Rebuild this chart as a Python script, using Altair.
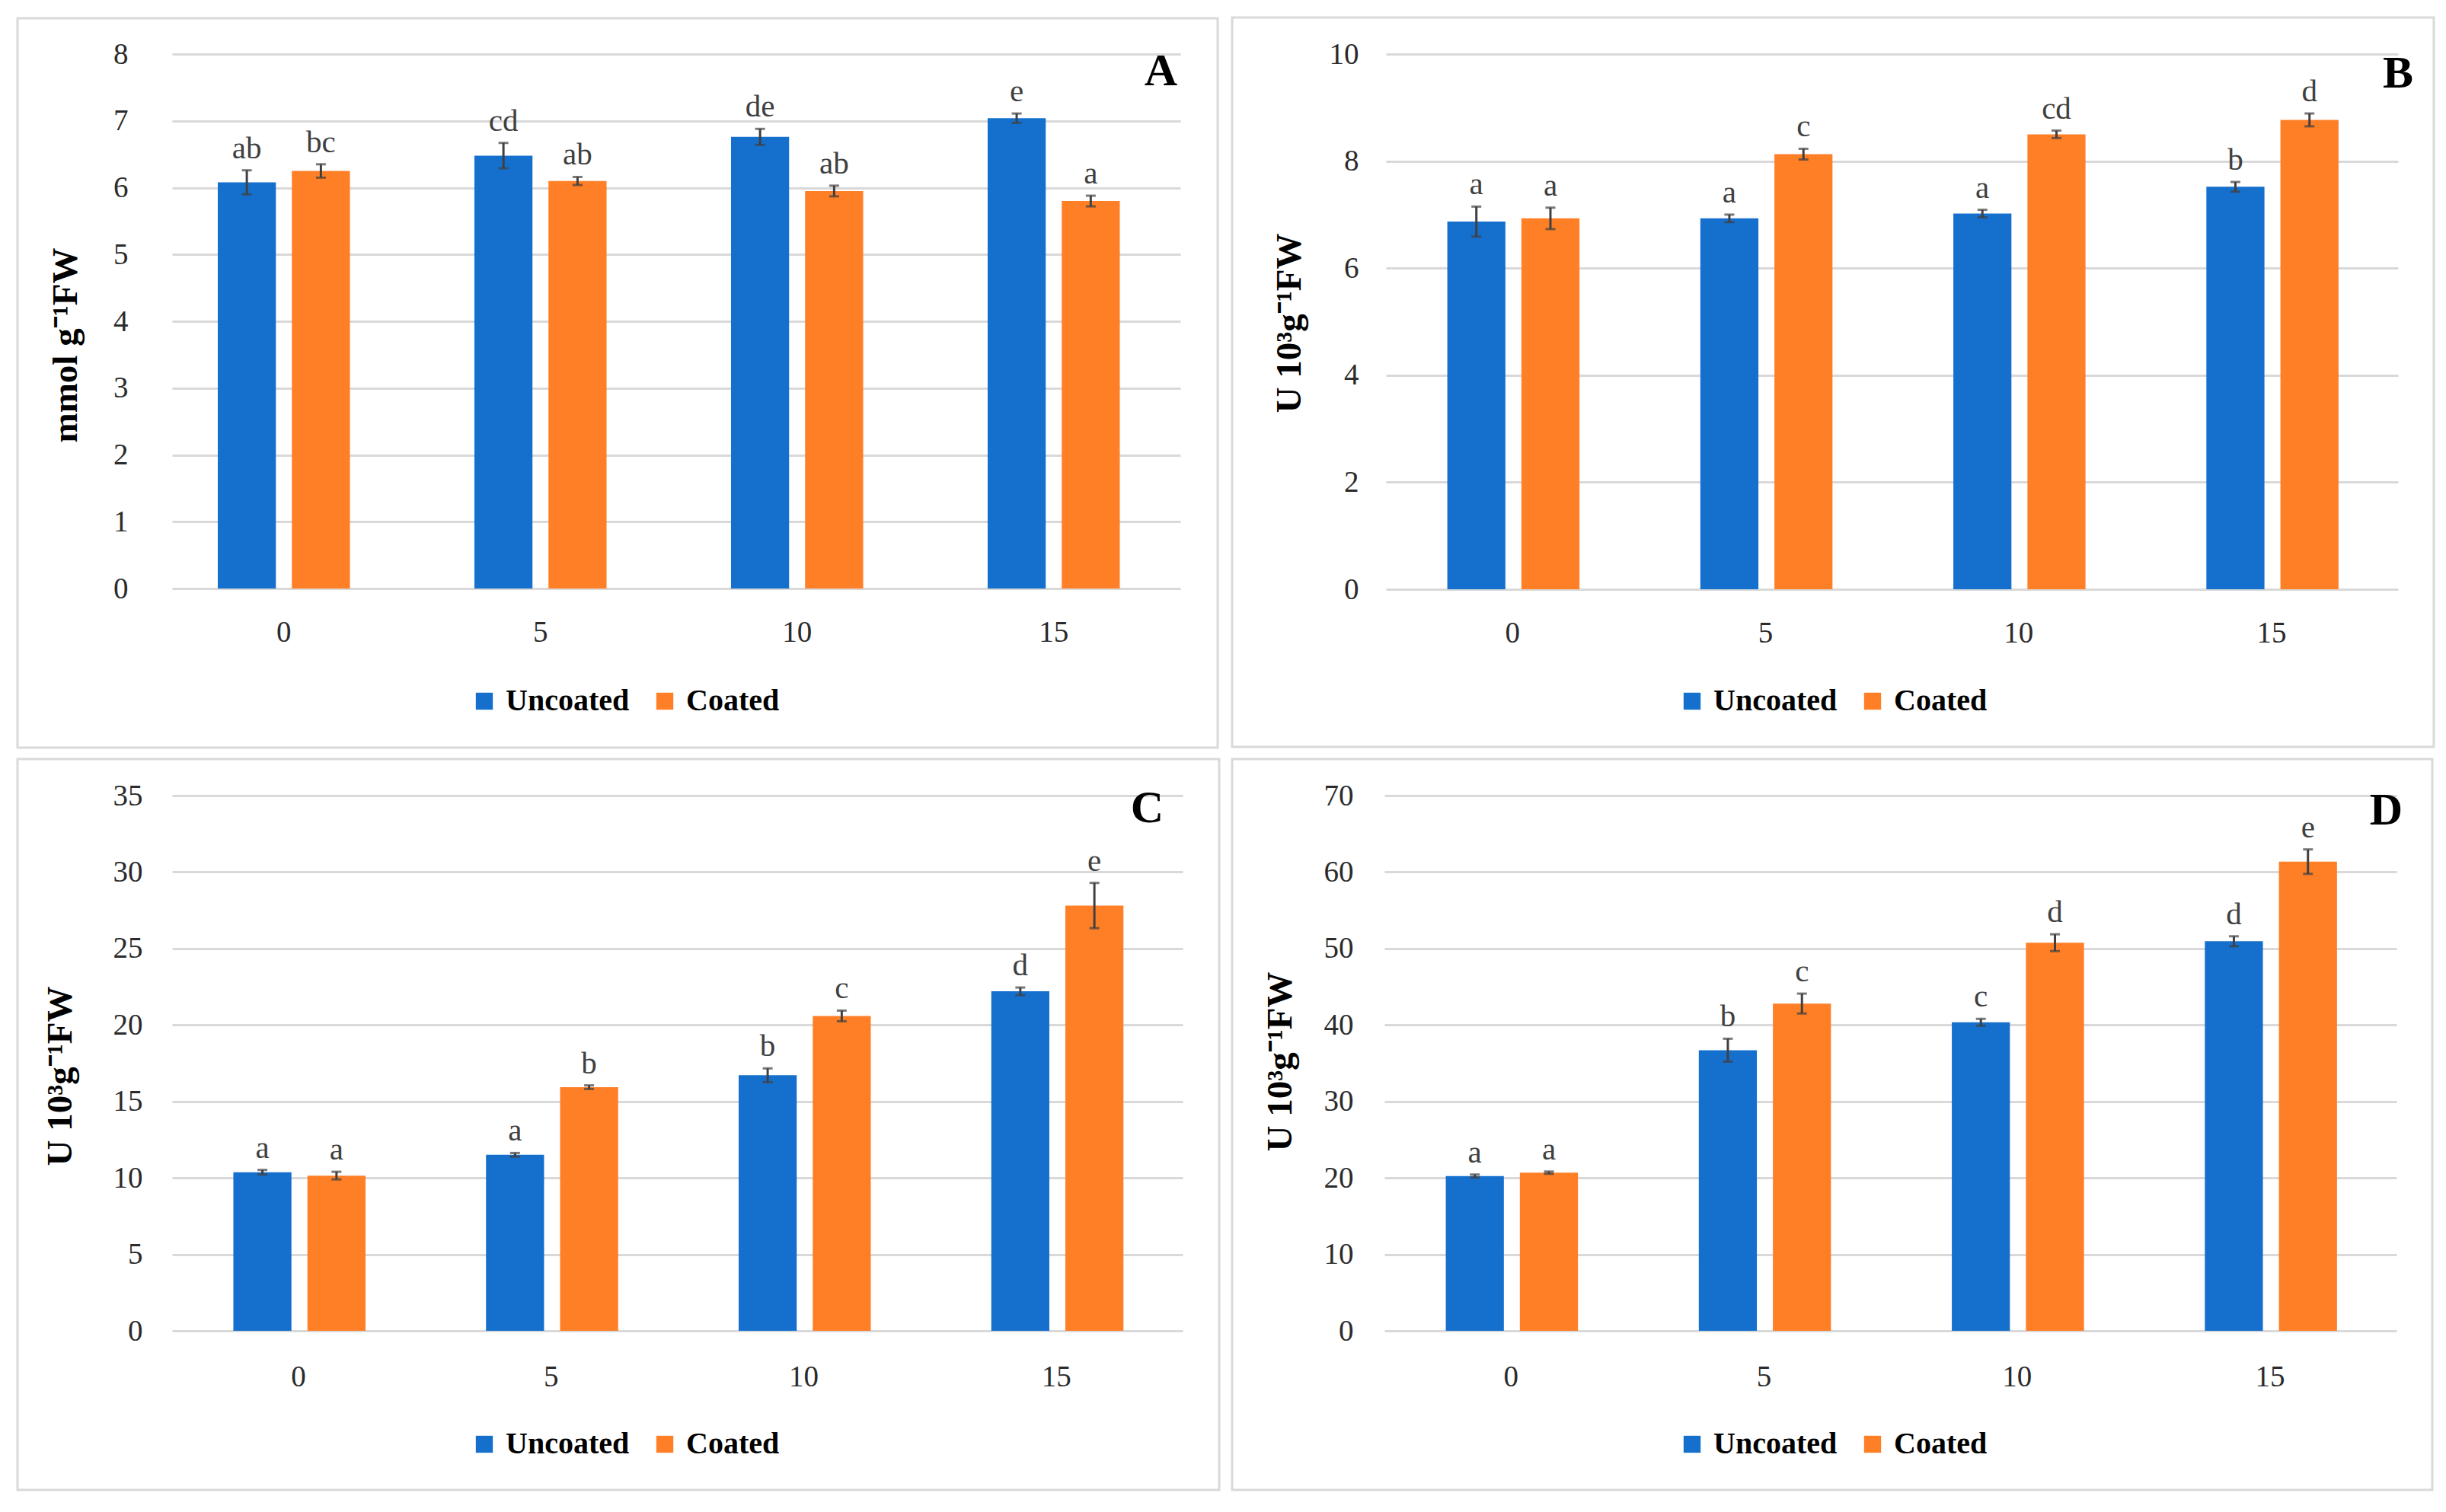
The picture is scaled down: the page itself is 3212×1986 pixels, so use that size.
import altair as alt
import pandas as pd

FONT = "Liberation Serif"
BLUE = "#1570CD"
ORANGE = "#FF7F27"
EB = "#404040"
GRID = "#D9D9D9"

days = ["0", "5", "10", "15"]
groups = ["Uncoated", "Coated"]

a_unc = [6.08, 6.48, 6.76, 7.04]
a_unc_err = [0.18, 0.19, 0.12, 0.07]
a_coat = [6.25, 6.10, 5.95, 5.80]
a_coat_err = [0.10, 0.06, 0.08, 0.08]
a_unc_lbl = ["ab", "cd", "de", "e"]
a_coat_lbl = ["bc", "ab", "ab", "a"]

b_unc = [6.87, 6.93, 7.02, 7.52]
b_unc_err = [0.28, 0.07, 0.07, 0.09]
b_coat = [6.93, 8.13, 8.50, 8.77]
b_coat_err = [0.20, 0.10, 0.07, 0.12]
b_unc_lbl = ["a", "a", "a", "b"]
b_coat_lbl = ["a", "c", "cd", "d"]

c_unc = [10.37, 11.51, 16.71, 22.20]
c_unc_err = [0.15, 0.12, 0.45, 0.25]
c_coat = [10.15, 15.93, 20.59, 27.81]
c_coat_err = [0.25, 0.12, 0.35, 1.48]
c_unc_lbl = ["a", "a", "b", "d"]
c_coat_lbl = ["a", "b", "c", "e"]

d_unc = [20.24, 36.70, 40.35, 50.95]
d_unc_err = [0.20, 1.50, 0.45, 0.65]
d_coat = [20.68, 42.80, 50.76, 61.36]
d_coat_err = [0.15, 1.30, 1.10, 1.60]
d_unc_lbl = ["a", "b", "c", "d"]
d_coat_lbl = ["a", "c", "d", "e"]


def panel(letter, unc, unc_err, coat, coat_err, unc_lbl, coat_lbl, ymax, ystep,
          ytitle, W, H, L, T, R, B, title_x, title_y, letter_x, letter_y,
          legend_x, legend_y, label_pad=38, x_outer=0.2425, x_align=0.5, x_pad=38):
    rows = []
    for i, d in enumerate(days):
        rows.append(dict(day=d, group="Uncoated", value=unc[i], err=unc_err[i], label=unc_lbl[i]))
        rows.append(dict(day=d, group="Coated", value=coat[i], err=coat_err[i], label=coat_lbl[i]))
    df = pd.DataFrame(rows)
    df["lo"] = df["value"] - df["err"]
    df["hi"] = df["value"] + df["err"]

    x = alt.X("day:N", sort=days, title=None,
              scale=alt.Scale(paddingInner=0.485, paddingOuter=x_outer, align=x_align),
              axis=alt.Axis(labelAngle=0, labelFont=FONT, labelFontSize=39,
                            labelColor="#2b2b2b", labelPadding=x_pad, ticks=False,
                            domain=False, grid=False))
    xo = alt.XOffset("group:N", sort=groups,
                     scale=alt.Scale(paddingInner=0.216, paddingOuter=0))
    yscale = alt.Scale(domain=[0, ymax], nice=False, zero=True)
    yaxis = alt.Axis(values=list(range(0, ymax + 1, ystep)), grid=True,
                     gridColor=GRID, gridWidth=3, domain=False, ticks=False,
                     labelPadding=label_pad, labelFont=FONT, labelFontSize=39,
                     labelColor="#2b2b2b", titleFont=FONT, titleFontSize=47,
                     titleFontWeight="bold", titleColor="black", titleAngle=-90,
                     titleX=title_x, titleY=title_y, titleAlign="center",
                     titleBaseline="bottom")

    def Y(field):
        return alt.Y(field, scale=yscale, axis=yaxis, title=ytitle)

    base = alt.Chart(df)
    border = alt.Chart(pd.DataFrame({"k": [0]})).mark_rect(
        filled=False, color=GRID, strokeWidth=3
    ).encode(x=alt.value(-L), x2=alt.value(W + R), y=alt.value(-T), y2=alt.value(H + B))

    bars = base.mark_bar().encode(
        x=x, xOffset=xo,
        y=Y("value:Q"),
        color=alt.Color("group:N", sort=groups,
                        scale=alt.Scale(domain=groups, range=[BLUE, ORANGE]),
                        legend=alt.Legend(title=None, orient="none", legendX=legend_x,
                                          legendY=legend_y, direction="horizontal",
                                          columns=2, symbolType="square", symbolSize=500,
                                          symbolStrokeWidth=0, labelFont=FONT,
                                          labelFontSize=40, labelFontWeight="bold",
                                          labelColor="black", labelOffset=8,
                                          labelLimit=500, columnPadding=26, padding=0)),
    )
    rules = base.mark_rule(color=EB, strokeWidth=3).encode(
        x=x, xOffset=xo, y=Y("lo:Q"), y2="hi:Q")
    cap_hi = base.mark_tick(color=EB, thickness=3, size=13).encode(
        x=x, xOffset=xo, y=Y("hi:Q"))
    cap_lo = base.mark_tick(color=EB, thickness=3, size=13).encode(
        x=x, xOffset=xo, y=Y("lo:Q"))
    labels = base.mark_text(font=FONT, fontSize=41, color=EB, baseline="alphabetic",
                            dy=-16).encode(
        x=x, xOffset=xo, y=Y("hi:Q"), text="label:N")
    tag = alt.Chart(pd.DataFrame({"t": [letter]})).mark_text(
        font=FONT, fontSize=60, fontWeight="bold", align="right",
        baseline="alphabetic", color="black"
    ).encode(x=alt.value(letter_x), y=alt.value(letter_y), text="t:N")

    return alt.layer(border, bars, rules, cap_hi, cap_lo, labels, tag).properties(
        width=W, height=H)


pA = panel("A", a_unc, a_unc_err, a_coat, a_coat_err, a_unc_lbl, a_coat_lbl, 8, 1,
           "mmol g⁻¹FW", 1324, 702, 203, 47, 49, 209, -116, 382, 1320, 41, 390, 830,
           label_pad=58, x_outer=0.207, x_align=0.43, x_pad=38)
pB = panel("B", b_unc, b_unc_err, b_coat, b_coat_err, b_unc_lbl, b_coat_lbl, 10, 2,
           "U 10³g⁻¹FW", 1329, 703, 202, 48, 47, 207, -103, 353, 1349, 44, 382, 830,
           label_pad=36, x_pad=38)
pC = panel("C", c_unc, c_unc_err, c_coat, c_coat_err, c_unc_lbl, c_coat_lbl, 35, 5,
           "U 10³g⁻¹FW", 1327, 703, 203, 48, 48, 209, -123, 368, 1302, 35, 390, 832,
           label_pad=39, x_pad=41)
pD = panel("D", d_unc, d_unc_err, d_coat, d_coat_err, d_unc_lbl, d_coat_lbl, 70, 10,
           "U 10³g⁻¹FW", 1329, 703, 200, 48, 47, 209, -113, 349, 1337, 38, 384, 832,
           label_pad=41, x_pad=41)

chart = alt.concat(pA, pB, pC, pD, columns=2, align="none",
                   spacing=alt.RowColnumber(row=11, column=13)).resolve_scale(
    x="independent", y="independent", color="independent"
).resolve_legend(color="independent").properties(
    padding={"left": 13, "top": 13, "right": 5, "bottom": 5},
    background="white",
).configure_view(stroke="transparent")

chart.save("out.html", embed_options={"renderer": "svg", "actions": False})
